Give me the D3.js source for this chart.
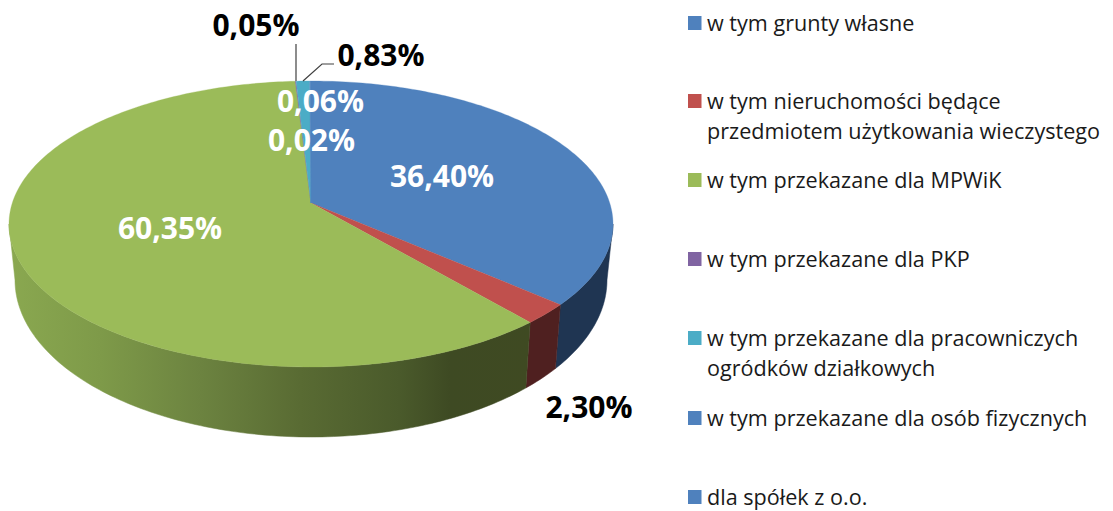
<!DOCTYPE html>
<html><head><meta charset="utf-8">
<script src="https://cdn.jsdelivr.net/npm/d3@7"></script>
<style>html,body{margin:0;background:#fff}svg{display:block}text{font-family:"Open Sans",sans-serif}</style>
</head><body><svg id="c" width="1113" height="511"></svg>
<script>
const sliceValues = [36.40, 2.30, 60.35, 0.05, 0.83, 0.06, 0.02];
const sliceLabels = ["36,40%", "2,30%", "60,35%", "0,05%", "0,83%", "0,06%", "0,02%"];
const sliceColors = ["#4f81bd", "#c0504d", "#9bbb59", "#8064a2", "#4bacc6", "#4f81bd", "#4f81bd"];
const sideColors  = ["#1f3552", "#4f2020", "#3f4a20", "#35294a", "#1f4a55", "#1f3552", "#1f3552"];
const legendItems = [
  ["w tym grunty własne"],
  ["w tym nieruchomości będące", "przedmiotem użytkowania wieczystego"],
  ["w tym przekazane dla MPWiK"],
  ["w tym przekazane dla PKP"],
  ["w tym przekazane dla pracowniczych", "ogródków działkowych"],
  ["w tym przekazane dla osób fizycznych"],
  ["dla spółek z o.o."]
];
const legendColors = ["#4f81bd", "#c0504d", "#9bbb59", "#8064a2", "#4bacc6", "#4f81bd", "#4f81bd"];

const svg = d3.select("#c");
const cx = 311, topCy = 224, rx = 302, ry = 143, apexY = 203;
const botCy = 280, botRx = 296, botRy = 157;
const p = (apexY - topCy) / ry;
// perspective projection of the unit disc onto the visible ellipse
function disc(a) {
  const u = Math.sin(a), v = -Math.cos(a), d = 1 + p * v;
  return [u * Math.sqrt(1 - p * p) / d, (v + p) / d];
}
const topPt = a => { const q = disc(a); return [cx + rx * q[0], topCy + ry * q[1]]; };
const botPt = a => { const q = disc(a); return [cx + botRx * q[0], botCy + botRy * q[1]]; };
const arcs = d3.pie().sort(null).startAngle(0).endAngle(2 * Math.PI)(sliceValues.map(v => v));
const samples = (a, b) => d3.range(0, 1.0001, 1 / Math.max(2, Math.ceil((b - a) * 60))).map(t => a + (b - a) * t);
const line = d3.line();

const defs = svg.append("defs");
const gr = defs.append("linearGradient").attr("id", "gs").attr("gradientUnits", "userSpaceOnUse")
  .attr("x1", 9).attr("x2", 530).attr("y1", 0).attr("y2", 0);
[[0, "#8aa850"], [0.175, "#7e9a49"], [0.367, "#6c8340"], [0.559, "#596b33"], [0.75, "#4a5a2b"], [0.846, "#3e4a23"], [1, "#3f4a22"]]
  .forEach(s => gr.append("stop").attr("offset", s[0]).attr("stop-color", s[1]));

// side wall: from the ellipse's right extreme round the front to its left extreme
const ext = Math.acos(-p);
const frontA = Math.PI - ext, frontB = Math.PI + ext;
arcs.forEach((d, i) => {
  const a = Math.max(d.startAngle, frontA), b = Math.min(d.endAngle, frontB);
  if (b <= a) return;
  const s = samples(a, b);
  const pts = s.map(topPt).concat(s.slice().reverse().map(botPt));
  svg.append("path").attr("d", line(pts) + "Z")
    .attr("fill", i === 2 ? "url(#gs)" : sideColors[i])
    .attr("stroke", i === 2 ? "url(#gs)" : sideColors[i]).attr("stroke-width", 0.5);
});
// top faces
arcs.forEach((d, i) => {
  const pts = [[cx, apexY]].concat(samples(d.startAngle, d.endAngle).map(topPt));
  svg.append("path").attr("d", line(pts) + "Z").attr("fill", sliceColors[i])
    .attr("stroke", sliceColors[i]).attr("stroke-width", 0.3);
});

// leader lines
const leader = [[[296, 81], [296, 44]], [[303, 81], [322, 64], [334, 64]]];
leader.forEach(l => svg.append("path").attr("d", line(l)).attr("fill", "none").attr("stroke", "#404040").attr("stroke-width", 1.2));

// data labels
const labelPos = [[442, 187, "#fff"], [589, 418, "#000"], [170, 239, "#fff"], [256, 36, "#000"], [381, 66, "#000"], [320.5, 112, "#fff"], [311.5, 151, "#fff"]];
svg.selectAll("text.lab").data(sliceLabels).join("text").attr("class", "lab")
  .attr("x", (d, i) => labelPos[i][0]).attr("y", (d, i) => labelPos[i][1])
  .attr("text-anchor", "middle").attr("font-weight", 700).attr("font-size", 30)
  .attr("fill", (d, i) => labelPos[i][2]).text(d => d);

// legend
const legendY = [31, 109, 188, 267, 346, 426, 505];
legendItems.forEach((lines, i) => {
  const y = legendY[i];
  svg.append("rect").attr("x", 688).attr("y", y - 15).attr("width", 13.5).attr("height", 14).attr("fill", legendColors[i]);
  lines.forEach((t, j) => svg.append("text").attr("x", 707).attr("y", y + j * 29.5)
    .attr("font-size", 21.6).attr("fill", "#1a1a1a").text(t));
});
</script></body></html>
